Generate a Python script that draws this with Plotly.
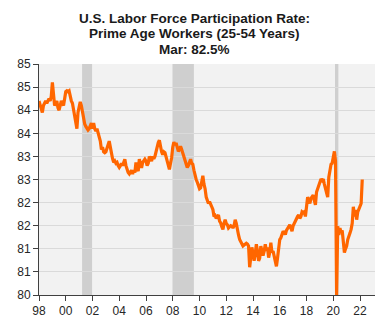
import plotly.graph_objects as go

# Monthly prime-age LFPR, Jan 1998 - Mar 2022
lfpr_by_year = {
    1998: [84.2, 84.1, 84.0, 83.95, 84.1, 84.15, 84.2, 84.15, 84.2, 84.25, 84.2, 84.3],
    1999: [84.6, 84.3, 84.1, 84.15, 84.2, 84.05, 84.0, 84.1, 84.2, 84.15, 84.1, 84.25],
    2000: [84.4, 84.42, 84.4, 84.42, 84.3, 84.2, 84.15, 84.0, 83.9, 83.7, 83.6, 83.95],
    2001: [84.1, 84.18, 84.1, 83.95, 83.82, 83.7, 83.65, 83.6, 83.57, 83.6, 83.65, 83.72],
    2002: [83.6, 83.72, 83.6, 83.55, 83.6, 83.5, 83.36, 83.33, 83.15, 83.2, 83.1, 83.08],
    2003: [83.1, 83.2, 83.28, 83.33, 83.2, 83.04, 82.95, 82.87, 82.9, 82.85, 82.87, 82.8],
    2004: [82.76, 82.8, 82.85, 82.8, 82.9, 82.94, 82.8, 82.7, 82.65, 82.62, 82.65, 82.7],
    2005: [82.62, 82.7, 82.65, 82.87, 82.75, 82.68, 82.94, 82.8, 82.75, 82.87, 82.9, 82.94],
    2006: [82.9, 82.8, 82.85, 83.0, 82.95, 82.9, 83.0, 82.95, 83.0, 83.1, 83.25, 83.3],
    2007: [83.35, 83.2, 83.1, 83.04, 83.1, 83.08, 83.0, 82.9, 82.85, 82.72, 82.85, 82.97],
    2008: [83.2, 83.31, 83.25, 83.29, 83.2, 83.11, 83.15, 83.22, 83.15, 83.08, 83.0, 82.94],
    2009: [82.83, 82.76, 82.8, 82.9, 82.94, 82.85, 82.83, 82.7, 82.58, 82.5, 82.44, 82.35],
    2010: [82.3, 82.32, 82.45, 82.58, 82.4, 82.3, 82.12, 82.05, 81.98, 82.02, 81.98, 81.91],
    2011: [81.85, 81.7, 81.72, 81.66, 81.7, 81.73, 81.6, 81.56, 81.48, 81.42, 81.55, 81.63],
    2012: [81.55, 81.52, 81.45, 81.48, 81.5, 81.49, 81.45, 81.5, 81.63, 81.55, 81.38, 81.3],
    2013: [81.2, 81.15, 81.1, 81.06, 81.08, 81.1, 81.12, 81.1, 81.06, 80.6, 80.85, 81.03],
    2014: [80.9, 80.74, 80.9, 81.1, 80.95, 80.74, 80.8, 81.06, 80.95, 80.85, 80.95, 81.1],
    2015: [80.96, 81.03, 80.81, 80.92, 81.13, 80.92, 80.95, 80.85, 80.75, 80.62, 80.8, 80.99],
    2016: [81.2, 81.24, 81.3, 81.38, 81.35, 81.31, 81.4, 81.45, 81.5, 81.52, 81.45, 81.38],
    2017: [81.5, 81.56, 81.6, 81.66, 81.7, 81.73, 81.66, 81.7, 81.8, 81.78, 81.8, 81.7],
    2018: [81.95, 82.12, 82.05, 81.98, 82.09, 82.12, 82.16, 82.05, 81.95, 82.23, 82.3, 82.34],
    2019: [82.45, 82.51, 82.48, 82.51, 82.4, 82.3, 82.16, 82.12, 82.55, 82.7, 82.83, 82.85],
    2020: [82.95, 83.11, 82.9, 80.0, 81.49, 81.3, 81.45, 81.35, 81.4, 81.2, 80.92, 81.0],
    2021: [81.06, 81.2, 81.25, 81.34, 81.42, 81.55, 81.91, 81.7, 81.84, 81.63, 81.8, 81.85],
    2022: [81.91, 81.98, 82.5],
}

# Recession periods (decimal years)
recession_starts = [2001.22, 2007.98, 2020.13]
recession_ends = [2001.97, 2009.58, 2020.38]

x_tick_vals = list(range(1998, 2023, 2))
x_tick_text = ["98", "00", "02", "04", "06", "08", "10", "12", "14", "16", "18", "20", "22"]
y_tick_vals = [80, 80.5, 81, 81.5, 82, 82.5, 83, 83.5, 84, 84.5, 85]
y_tick_text = ["80", "81", "81", "82", "82", "83", "83", "84", "84", "85", "85"]

title_lines = ["U.S. Labor Force Participation Rate:",
               "Prime Age Workers (25-54 Years)",
               "Mar: 82.5%"]

dates = []
values = []
for yr, vals in lfpr_by_year.items():
    for m, v in enumerate(vals):
        dates.append(yr + m / 12.0)
        values.append(v)

fig = go.Figure()
for s, e in zip(recession_starts, recession_ends):
    fig.add_vrect(x0=s, x1=e, fillcolor="#cfcfcf", line_width=0, layer="below")

fig.add_trace(go.Scatter(
    x=dates, y=values, mode="lines",
    line=dict(color="#ff6600", width=3.2),
    hoverinfo="skip", showlegend=False,
))

# Title lines placed individually for tight line spacing
title_y = [1.199, 1.131, 1.064]
for txt, ty in zip(title_lines, title_y):
    fig.add_annotation(
        text="<b>" + txt + "</b>",
        xref="paper", yref="paper", x=0.464, y=ty,
        xanchor="center", yanchor="middle", showarrow=False, borderpad=0,
        font=dict(family="Liberation Sans, Arial, sans-serif", size=13.5, color="#1a1a1a"),
    )

fig.update_layout(
    width=390, height=330,
    margin=dict(l=39, r=15, t=64, b=30),
    paper_bgcolor="white",
    plot_bgcolor="#f2f2f2",
    font=dict(family="Liberation Sans, Arial, sans-serif", size=12, color="#262626"),
    xaxis=dict(
        range=[1998, 2023.12],
        tickmode="array", tickvals=x_tick_vals, ticktext=x_tick_text,
        ticks="outside", ticklen=5, tickcolor="#404040", tickwidth=1,
        showgrid=False, zeroline=False,
        showline=True, linecolor="#404040", linewidth=1,
        tickfont=dict(size=12, color="#262626"),
    ),
    yaxis=dict(
        range=[80, 85],
        tickmode="array", tickvals=y_tick_vals, ticktext=y_tick_text,
        ticks="outside", ticklen=5, tickcolor="#404040", tickwidth=1,
        showgrid=True, gridcolor="#dadada", gridwidth=1,
        zeroline=False,
        showline=True, linecolor="#404040", linewidth=1,
        tickfont=dict(size=12, color="#262626"),
    ),
)

fig.write_html("out.html")
